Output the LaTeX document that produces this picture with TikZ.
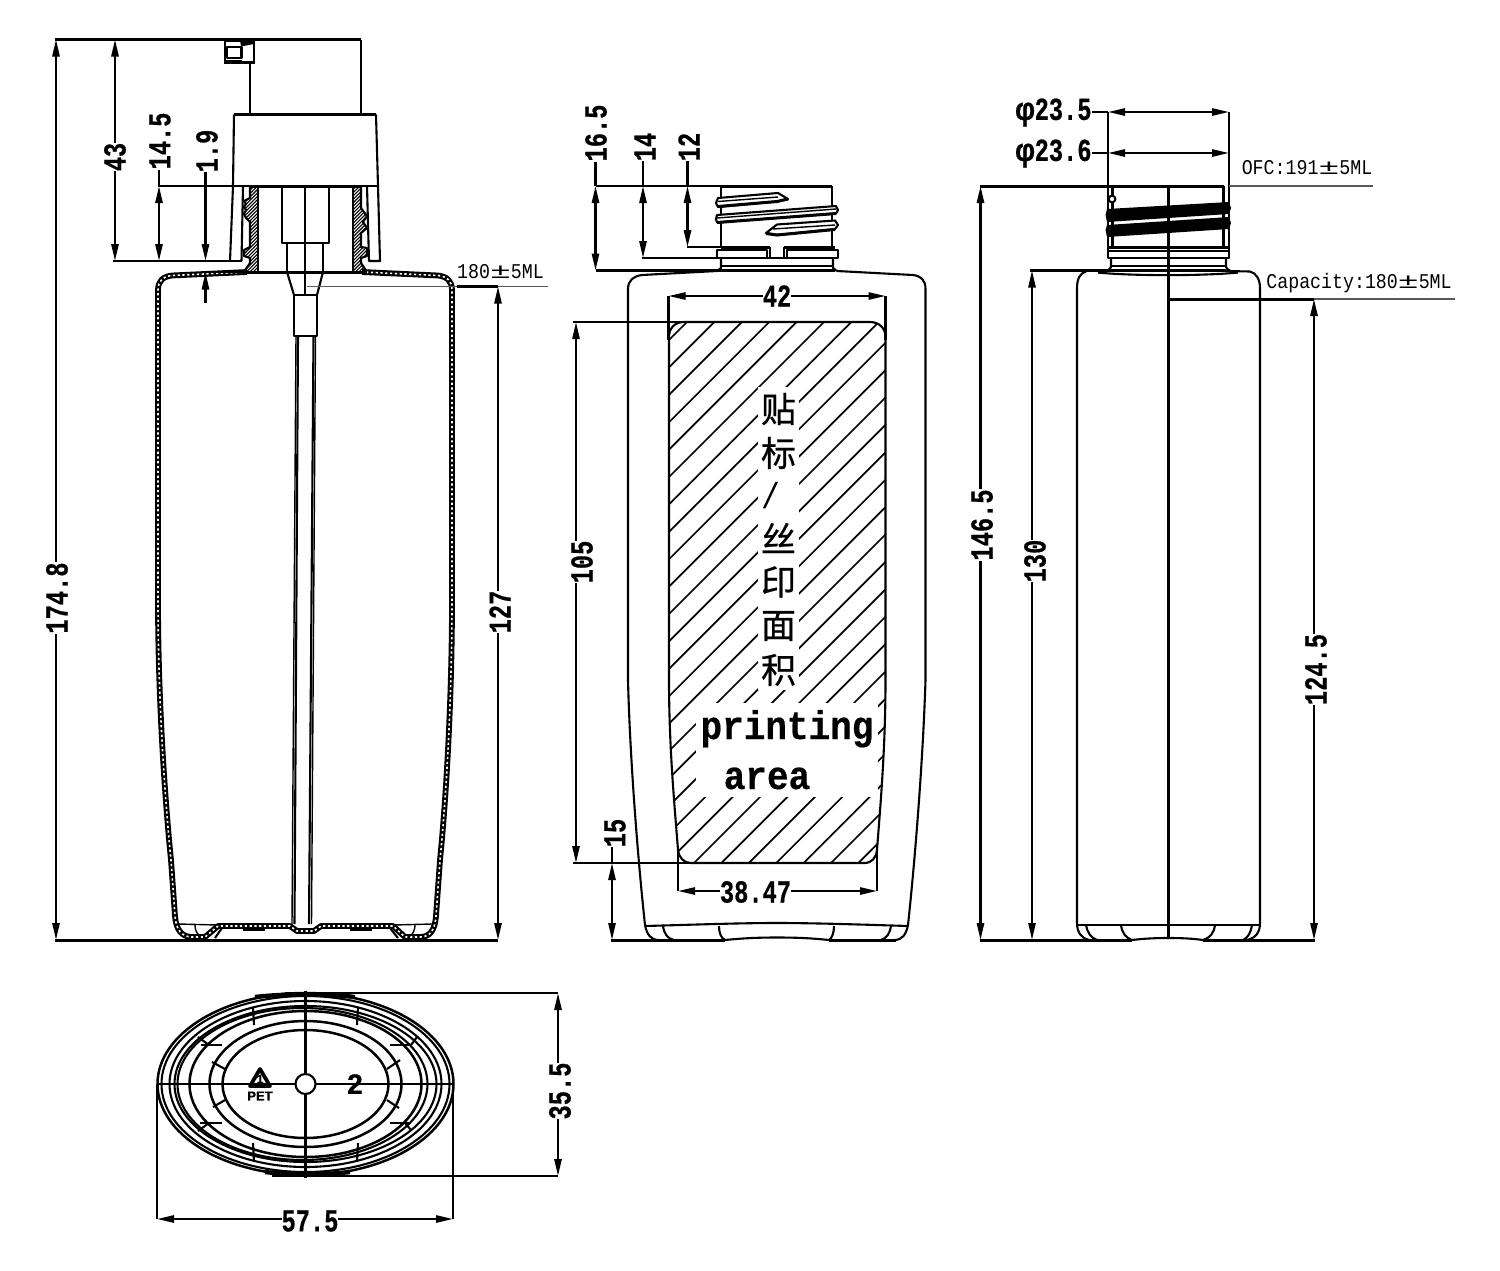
\documentclass[tikz,border=0pt]{standalone}
\usepackage{fontspec}
\usepackage{graphicx}
\usetikzlibrary{arrows.meta}
\setmainfont{Liberation Serif}
\newfontfamily\dimfont[FakeStretch=.74,BoldFeatures={FakeBold=.5}]{Liberation Mono}
\newfontfamily\notefont[FakeStretch=.87]{Liberation Mono}
\newfontfamily\bigfont[FakeStretch=.9,BoldFeatures={FakeBold=.4}]{Liberation Mono}
\newfontfamily\cjkfont[FakeBold=.6]{Noto Sans CJK SC}
\newfontfamily\sansbf[BoldFeatures={FakeBold=.6}]{Liberation Sans}
\newcommand{\wpm}{\scalebox{1.9}[1]{±}}
\tikzset{
  ol/.style={line width=1.05pt,line join=round},
  thk/.style={line width=1.5pt},
  fine/.style={line width=.7pt},
  dl/.style={line width=1.05pt,>={Triangle[length=8.5pt,width=3.6pt]}},
  ext/.style={line width=1.05pt},
  grayl/.style={line width=.55pt,black!65},
  wallb/.style={line width=2.9pt,line join=round},
  wallw/.style={line width=.8pt,white,dash pattern=on 1.1pt off 1.3pt},
  hat/.style={line width=.85pt},
  fhat/.style={line width=.55pt},
  vlab/.style={font=\dimfont\bfseries\fontsize{16}{16}\selectfont,fill=white,inner sep=0pt,rotate=90},
  hlab/.style={font=\dimfont\bfseries\fontsize{16}{16}\selectfont,fill=white,inner sep=0pt},
  note/.style={font=\notefont\fontsize{10.5}{10.5}\selectfont,inner sep=0pt},
  bigl/.style={font=\bigfont\bfseries\fontsize{20}{20}\selectfont,inner sep=0pt},
  cjkl/.style={font=\cjkfont\fontsize{17.5}{17.5}\selectfont,inner sep=0pt},
}
\begin{document}
\begin{tikzpicture}[x=.5pt,y=-.5pt]
\useasboundingbox (0,0) rectangle (1500,1270);
\fill[white] (0,0) rectangle (1500,1270);

%% ===== LEFT SECTION =====
% pump head
\draw[thk] (55,39.5) -- (361,39.5);
\draw[ol] (361,39.5) -- (361,114);
\draw[ol] (250,62) -- (250,114);
\draw[ol,line join=miter] (225,41) rectangle (254,62.5);
\draw[ol] (227,47) rectangle (241.5,58);
\fill (240,40.5) -- (254,40.5) -- (254,44) -- (241,46.5) -- cycle;
\fill (225,60) rectangle (241.5,63);
% closure
\draw[ol] (234,114.5) -- (376,114.5);
\draw[ol] (234,114.5) -- (233,186) -- (230,261);
\draw[ol] (376,114.5) -- (378,186) -- (380,261) -- (369,261) -- (367,186);
\draw[ol] (241.5,261) -- (243,186);
\draw[ext] (158,186) -- (250,186);
\draw[ol] (361,186) -- (378,186);
\draw[thk] (249,186) -- (361,186);
\draw[ext] (113,261) -- (241.5,261);
% neck walls (hatched)
\begin{scope}
\clip (250,186) -- (250,198) -- (244,201) -- (246,204) -- (244,207) -- (246,210) -- (244,214) -- (246,218) -- (250,222) -- (250,247) -- (244,250) -- (244,256) -- (250,258) -- (250,263) -- (244,272) -- (258,272) -- (258,186) -- cycle;
\foreach \k in {0,3.4,...,110} \draw[fhat] (240,190+\k) -- (262,168+\k);
\end{scope}
\begin{scope}
\clip (353,186) -- (353,272) -- (367,272) -- (361,263) -- (361,258) -- (367,256) -- (367,248) -- (361,247) -- (361,233) -- (367,228) -- (363,222) -- (367,216) -- (361,208) -- (361,186) -- cycle;
\foreach \k in {0,3.4,...,110} \draw[fhat] (349,190+\k) -- (371,168+\k);
\end{scope}
\draw[ol] (250,186) -- (250,198) -- (244,201) -- (246,204) -- (244,207) -- (246,210) -- (244,214) -- (246,218) -- (250,222) -- (250,247) -- (244,250) -- (244,256) -- (250,258) -- (250,263) -- (244,272);
\draw[ol] (258,186) -- (258,272);
\draw[ol] (353,186) -- (353,272);
\draw[ol] (361,186) -- (361,208) -- (367,216) -- (363,222) -- (367,228) -- (361,233) -- (361,247) -- (367,248) -- (367,256) -- (361,258) -- (361,263) -- (367,272);
% pump internals
\draw[ol] (282,186) rectangle (329,243);
\draw[ol] (287,243) -- (287,272);
\draw[ol] (323,243) -- (323,272);
\draw[ol] (305,186) -- (305,295);
\draw[ol] (287,272) -- (294,295);
\draw[ol] (323,272) -- (317,295);
\draw[ol] (294,295) rectangle (317,336);
% dip tube
\draw[ol] (298,336) -- (294.5,924);
\draw[ol] (313.5,336) -- (309,924);
\draw[fine] (296,336) -- (292,924);
\draw[fine] (315.5,336) -- (311.5,924);
% bottle wall
\path[save path=\wallpath] (247,272) -- (172,275.5) .. controls (163,276.5) and (158,281) .. (158,290) -- (158,600) .. controls (158,700) and (165,800) .. (171,860) -- (175,916) .. controls (176,930) and (182,937) .. (192,937) -- (205,937) -- (218,926) -- (290,926) -- (297,931) -- (314,931) -- (321,926) -- (393,926) -- (405,937) -- (420,937) .. controls (430,937) and (435,930) .. (436,916) -- (440,860) .. controls (446,800) and (452,700) .. (452,600) -- (452,290) .. controls (452,281) and (447,276.5) .. (438,275.5) -- (362,272);
\draw[wallb,use path=\wallpath];
\draw[wallw,use path=\wallpath];
\draw[thk] (245,272) -- (367,272);
\draw[ext] (206,272) -- (247,272);
% base details
\draw[fine] (178,924) -- (218,925);
\draw[fine] (393,925) -- (432,924);
\draw[fine] (195,925) .. controls (195,930) and (197,934) .. (200,936);
\draw[fine] (415,925) .. controls (415,930) and (413,934) .. (410,936);
\draw[ol] (222,928) -- (215,938);
\draw[ol] (390,928) -- (398,938);
\draw[thk] (243,929) -- (265,929);
\draw[thk] (350,929) -- (372,929);
\draw[thk] (55,940.5) -- (498,940.5);
% dims
\draw[grayl] (307,286.5) -- (548,286.5);
\draw[thk] (457,286.5) -- (498,286.5);
\draw[dl,<->] (56,39.5) -- (56,940);
\draw[dl,<->] (115,39.5) -- (115,261);
\draw[dl,<->] (159,186) -- (159,261);
\draw[dl] (159,170) -- (159,186);
\draw[dl,->] (205.5,172) -- (205.5,261);
\draw[dl,->] (205.5,303) -- (205.5,272.5);
\draw[dl,<->] (498,286.5) -- (498,940);
\node[vlab] (d1748) at (57,598) {174.8};
\node[vlab] (d43) at (115,157) {43};
\node[vlab] (d145) at (160,141) {14.5};
\node[vlab] (d19) at (207,151) {1.9};
\node[vlab] (d127) at (500,612) {127};
\node[note] (n180) at (500.5,272) {180\wpm5ML};

%% ===== MIDDLE VIEW =====
% neck
\draw[ext] (596,186) -- (722,186);
\draw[thk] (721,186) -- (832,186);
\draw[ol] (721,186) -- (721,247);
\draw[ol] (832,186) -- (832,247);
% threads
\draw[ol,fill=white] (718,198) -- (778,193) -- (788,199) -- (777,201.5) -- (718,207) -- (716,203) -- cycle;
\draw[thk] (718,206.5) -- (777,201.5) -- (788,199);
\draw[fine] (718,201.5) -- (778,197);
\draw[ol,fill=white] (717,215) -- (836,206) -- (838,210) -- (836,213.5) -- (717,222.5) -- (716,219) -- cycle;
\draw[thk] (717,222.5) -- (836,213.5);
\draw[fine] (717,218) -- (836,209);
\draw[ol,fill=white] (766,233) -- (777,224.5) -- (835,220.5) -- (838,225) -- (835,229) -- (777,235) -- cycle;
\draw[thk] (766,233.5) -- (777,235) -- (835,229.5);
\draw[fine] (773,229) -- (835,225);
% collar
\draw[ext] (687,247) -- (770,247);
\draw[thk] (721,247) -- (770,247);
\draw[thk] (784,247) -- (835,247);
\draw[ol] (770,247) -- (770,258);
\draw[ol] (784,247) -- (784,258);
\draw[ol] (717,250) rectangle (767,258);
\draw[ol] (787,250) rectangle (838,258);
\draw[ext] (642,258) -- (838,258);
\draw[ol] (721,258) -- (721,268) -- (717,271);
\draw[ol] (833,258) -- (833,268) -- (837,271);
\draw[ol] (721,266) -- (833,266);
\draw[thk] (719,270.5) -- (835,270.5);
\draw[ext] (596,270.5) -- (719,270.5);
% body
\draw[ol] (717,271) -- (642,275) .. controls (634,276) and (628,280) .. (628,289) -- (628,680) .. controls (630,760) and (638,860) .. (645,925) .. controls (647,935) and (651,940) .. (659,940);
\draw[ol] (837,271) -- (913,275) .. controls (921,276) and (925.5,280) .. (925.5,289) -- (925.5,680) .. controls (923,760) and (915,860) .. (908,925) .. controls (906,935) and (902,940) .. (894,940);
\draw[ol] (645,926) .. controls (700,924.5) and (740,923) .. (776,923) .. controls (815,923) and (860,924.5) .. (908,926);
\draw[ol] (663,926) .. controls (664,934) and (668,939) .. (674,940);
\draw[ol] (719,926) .. controls (719,933) and (721,938) .. (725,940);
\draw[ol] (834,926) .. controls (834,933) and (832,938) .. (829,940);
\draw[ol] (891,926) .. controls (890,933) and (887,938) .. (881,940);
\draw[ol] (725,940) .. controls (745,938) and (760,937.5) .. (777,937.5) .. controls (795,937.5) and (810,938) .. (829,940);
\draw[thk] (611,940.5) -- (725,940.5);
\draw[thk] (829,940.5) -- (896,940.5);
% printing area
\path[save path=\areapath] (669,337) .. controls (669,328) and (675,322) .. (684,322) -- (870,322) .. controls (879,322) and (885.5,328) .. (885.5,337) -- (885.5,680) .. controls (885.5,750) and (880,810) .. (877,850) .. controls (876,858) and (872,863) .. (864,863) -- (691,863) .. controls (684,863) and (679,858) .. (678,850) .. controls (675,810) and (669,750) .. (669,680) -- cycle;
\begin{scope}
\clip[use path=\areapath];
\foreach \k in {-21,...,7}{
  \pgfmathsetmacro{\s}{1557+27.4*\k}
  \draw[hat] (600,\s-600) -- (950,\s-950);
}
\fill[white] (758,387) rectangle (799,690);
\fill[white] (696,703) rectangle (878,797);
\end{scope}
\draw[ol,use path=\areapath];
% middle dims
\draw[ext] (573,322) -- (684,322);
\draw[ext] (573,863) -- (691,863);
\draw[ext] (668.5,296) -- (668.5,340);
\draw[ext] (885.5,296) -- (885.5,340);
\draw[ext] (678,850) -- (678,891);
\draw[ext] (877,850) -- (877,891);
\draw[dl,<->] (595.5,186) -- (595.5,270.5);
\draw[dl] (595.5,162) -- (595.5,186);
\draw[dl,<->] (643,186) -- (643,258);
\draw[dl] (643,161) -- (643,186);
\draw[dl,<->] (687.5,186) -- (687.5,247);
\draw[dl] (687.5,161) -- (687.5,186);
\draw[dl,<->] (668.5,296) -- (885.5,296);
\draw[dl,<->] (576,322) -- (576,863);
\draw[dl,<->] (612,863) -- (612,940);
\draw[dl] (612,846) -- (612,863);
\draw[dl,<->] (678,891) -- (877,891);
\node[vlab] (d165) at (596,133) {16.5};
\node[vlab] (d14) at (645,147) {14};
\node[vlab] (d12) at (689,147) {12};
\node[hlab] (d42) at (777,296) {42};
\node[vlab] (d105) at (582,562) {105};
\node[vlab] (d15) at (615,833) {15};
\node[hlab] (d3847) at (755.5,892) {38.47};
\node[cjkl] (c1) at (778.5,409) {贴};
\node[cjkl] (c2) at (778.5,453) {标};
\node[inner sep=0pt,font=\notefont\fontsize{18}{18}\selectfont] (c3) at (770.5,496) {/};
\node[cjkl] (c4) at (778.5,538) {丝};
\node[cjkl] (c5) at (778.5,582) {印};
\node[cjkl] (c6) at (778.5,626) {面};
\node[cjkl] (c7) at (778.5,670) {积};
\node[bigl,anchor=base] (t1) at (787,739) {printing};
\node[bigl,anchor=base] (t2) at (767,789) {area};

%% ===== RIGHT VIEW =====
\draw[ext] (1108,112) -- (1108,257);
\draw[ext] (1229,112) -- (1229,257);
\draw[thk] (980,186) -- (1224,186);
\draw[grayl] (1229,186) -- (1373,186);
\draw[ol] (1112.5,186) -- (1112.5,247);
\draw[ol] (1223.5,186) -- (1223.5,247);
\draw[ol,fill=white] (1112,199) circle (3.4);
\fill (1107,209) -- (1229,202) -- (1231,208) -- (1229,214) -- (1107,222) -- (1105.5,215) -- cycle;
\fill (1107,225) -- (1229,217) -- (1231,223) -- (1229,229) -- (1107,237) -- (1105.5,230) -- cycle;
\draw[thk] (1108,247.5) -- (1229,247.5);
\draw[ol] (1108,251) rectangle (1229,258);
\draw[ol] (1111,258) -- (1111,267) .. controls (1110,270) and (1105,272) .. (1098,272.5);
\draw[ol] (1226,258) -- (1226,267) .. controls (1227,270) and (1232,272) .. (1238,272.5);
\draw[ol] (1111,266) -- (1226,266);
\draw[thk] (1110,270.5) -- (1226,270.5);
\draw[ol] (1098,272.5) .. controls (1130,276) and (1205,276) .. (1238,272.5);
\draw[thk] (1030,270.5) -- (1110,270.5);
\draw[ol] (1226,271) -- (1250,271.5);
\draw[ol] (1086,271.5) .. controls (1080,273) and (1077,279) .. (1077,288) -- (1077,923) .. controls (1077,932) and (1081,938) .. (1089,940);
\draw[ol] (1250,271.5) .. controls (1256,273) and (1260,279) .. (1260,288) -- (1260,923) .. controls (1260,932) and (1256,938) .. (1247,940);
\draw[ol] (1077,925) -- (1260,925);
\draw[ol] (1086,925) .. controls (1087,932) and (1091,938) .. (1097,940);
\draw[ol] (1121,925) .. controls (1122,933) and (1126,938) .. (1132,940);
\draw[ol] (1215,925) .. controls (1214,933) and (1210,938) .. (1203,940);
\draw[ol] (1252,925) .. controls (1251,932) and (1248,938) .. (1243,940);
\draw[ol] (1132,940) .. controls (1145,938.5) and (1155,938) .. (1168,938) .. controls (1182,938) and (1192,938.5) .. (1203,940);
\draw[thk] (980,940.5) -- (1132,940.5);
\draw[thk] (1203,940.5) -- (1315,940.5);
\draw[ol] (1168.5,186) -- (1168.5,938);
\draw[thk] (1169,299) -- (1314,299);
\draw[grayl] (1314,299) -- (1455,299);
% right dims
\draw[dl,<->] (1108,112) -- (1229,112);
\draw[dl] (1092,112) -- (1108,112);
\draw[dl,<->] (1108,153) -- (1229,153);
\draw[dl] (1092,153) -- (1108,153);
\draw[dl,<->] (980.5,186) -- (980.5,940);
\draw[dl,<->] (1032,270.5) -- (1032,940);
\draw[dl,<->] (1314,299) -- (1314,940);
\node[hlab] (phi1) at (1053.5,112.5) {\scalebox{1.35}[1]{φ}23.5};
\node[hlab] (phi2) at (1053.5,153.5) {\scalebox{1.35}[1]{φ}23.6};
\node[note] (ofc) at (1307,168) {OFC:191\wpm5ML};
\node[note] (cap) at (1359,283) {Capacity:180\wpm5ML};
\node[vlab] (d1465) at (982,525) {146.5};
\node[vlab] (d130) at (1035,561) {130};
\node[vlab] (d1245) at (1316,669.5) {124.5};

%% ===== BOTTOM VIEW =====
\begin{scope}[line width=1.05pt]
\draw[line width=1.25pt] (305.5,1084) ellipse [x radius=148,y radius=91];
\draw (305.5,1084) ellipse [x radius=144,y radius=88];
\draw (305.5,1084) ellipse [x radius=136,y radius=83];
\draw (305.5,1084) ellipse [x radius=131,y radius=78];
\draw (302.5,1084) ellipse [x radius=125,y radius=76];
\draw[line width=1.25pt] (305.5,1084) ellipse [x radius=116,y radius=73];
\draw[line width=1.25pt] (305.5,1084) ellipse [x radius=96,y radius=63];
\draw[line width=1.25pt] (305.5,1084) ellipse [x radius=83,y radius=54];
% outer crescent thickening
\draw[line width=2.2pt] (255,997) .. controls (285,993.5) and (325,993.5) .. (355,997);
\draw[line width=2.2pt] (265,1172) .. controls (290,1175) and (325,1175) .. (350,1172);
% ribs
\draw (212,1062) -- (225,1069);
\draw (387,1069) -- (400,1060);
\draw (213,1107) -- (225,1100);
\draw (387,1100) -- (399,1108);
\draw (201,1045) -- (222,1045);
\draw (390,1045) -- (410,1045);
\draw (200,1123) -- (222,1123);
\draw (390,1123) -- (411,1123);
\draw (198,1037) -- (209,1045);
\draw (411,1045) -- (417,1037);
\draw (198,1131) -- (209,1123);
\draw (411,1130) -- (405,1123);
\draw (253,1007) -- (254,1025);
\draw (358,1007) -- (357,1025);
\draw (253,1143) -- (254,1162);
\draw (358,1143) -- (357,1162);
\draw (157,1084) -- (453,1084);
\draw (305.5,991) -- (305.5,1178);
\draw[fill=white] (305.5,1084) circle (10);
\end{scope}
\draw[line width=1.9pt,line join=round] (260,1069) -- (250,1086) -- (270,1086) -- cycle;
\node[inner sep=0pt,font=\sansbf\bfseries\fontsize{6}{6}\selectfont] (r1) at (260,1079) {1};
\node[inner sep=0pt,font=\sansbf\bfseries\fontsize{6.5}{6.5}\selectfont] (pet) at (260,1096) {PET};
\node[inner sep=0pt,font=\sansbf\bfseries\fontsize{14}{14}\selectfont] (two) at (355,1084) {2};
% bottom dims
\draw[ext] (285,993) -- (558,993);
\draw[ext] (272,1176) -- (558,1176);
\draw[ext] (157,1084) -- (157,1219);
\draw[ext] (453,1084) -- (453,1219);
\draw[dl,<->] (558,993) -- (558,1176);
\draw[dl,<->] (157,1219) -- (453,1219);
\node[vlab] (d355) at (560,1091) {35.5};
\node[hlab] (d575) at (310,1221) {57.5};
\end{tikzpicture}
\end{document}
